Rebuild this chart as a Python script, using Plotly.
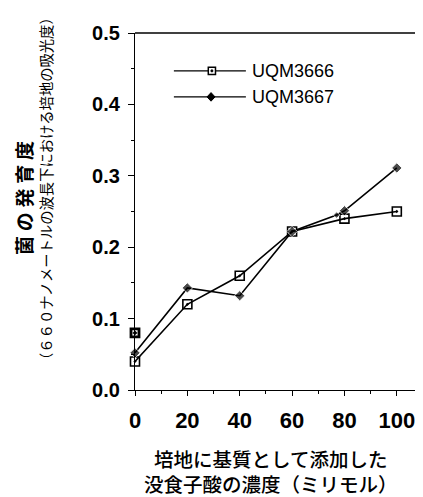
import plotly.graph_objects as go

# Data
conc_3666 = [0, 20, 40, 60, 80, 100]
od_3666 = [0.04, 0.12, 0.16, 0.222, 0.24, 0.25]
extra_conc_3666 = [0]
extra_od_3666 = [0.08]

conc_3667 = [0, 20, 40, 60, 77, 80, 100]
od_3667 = [0.052, 0.143, 0.132, 0.222, 0.245, 0.251, 0.311]
size_3667 = [8, 8, 8, 8, 5, 8, 8]

series_names = ["UQM3666", "UQM3667"]
x_ticks = [0, 20, 40, 60, 80, 100]
y_ticks = [0.0, 0.1, 0.2, 0.3, 0.4, 0.5]
y_tick_text = ["0.0", "0.1", "0.2", "0.3", "0.4", "0.5"]

y_title_main = "菌\u2005の\u2005発\u2005育\u2005度"
y_title_sub = "（６６０ナノメートルの波長下における培地の吸光度）"
x_title_1 = "培地に基質として添加した"
x_title_2 = "没食子酸の濃度（ミリモル）"

fig = go.Figure()
fig.add_trace(go.Scatter(
    x=conc_3666, y=od_3666, mode="lines+markers", name=series_names[0],
    line=dict(color="black", width=1.6),
    marker=dict(symbol="square-open-dot", size=9, color="black", line=dict(width=1.6)),
    showlegend=False, cliponaxis=False))
fig.add_trace(go.Scatter(
    x=extra_conc_3666, y=extra_od_3666, mode="markers",
    marker=dict(symbol="square-open-dot", size=8, color="black", line=dict(width=2.8)),
    showlegend=False, cliponaxis=False))
fig.add_trace(go.Scatter(
    x=conc_3667, y=od_3667, mode="lines+markers", name=series_names[1],
    line=dict(color="black", width=1.6),
    marker=dict(symbol="diamond", size=size_3667, color="black"),
    showlegend=False, cliponaxis=False))

sans = "Liberation Sans, Arial, sans-serif"
cjk = "Noto Sans CJK JP"

fig.update_layout(
    width=415, height=489,
    margin=dict(l=127, r=0, t=25, b=107),
    paper_bgcolor="white", plot_bgcolor="white",
    xaxis=dict(range=[0, 110], tickvals=x_ticks, ticktext=[str(v) for v in x_ticks],
               showgrid=False, zeroline=False, showline=True, linecolor="black", linewidth=1.3,
               ticks="outside", ticklen=5, tickwidth=1.2, tickcolor="black",
               minor=dict(dtick=10, ticks="outside", ticklen=3, tickcolor="black", showgrid=False),
               tickfont=dict(family=sans, size=22, color="black", weight="bold"),
               ticklabelstandoff=5),
    yaxis=dict(range=[0, 0.5], tickvals=y_ticks, ticktext=y_tick_text,
               showgrid=False, zeroline=False, showline=True, linecolor="black", linewidth=1.3,
               ticks="outside", ticklen=6, tickwidth=1.2, tickcolor="black",
               minor=dict(dtick=0.05, ticks="outside", ticklen=3, tickcolor="black", showgrid=False),
               tickfont=dict(family=sans, size=20, color="black", weight="bold"),
               ticklabelstandoff=4),
    showlegend=False,
)

# top frame line
fig.add_shape(type="line", xref="paper", yref="paper", x0=0, x1=1, y0=1, y1=1,
              line=dict(color="black", width=1.3))

# manual legend
leg_y = [0.894, 0.821]
for i, ly in enumerate(leg_y):
    fig.add_shape(type="line", xref="paper", yref="paper", x0=0.135, x1=0.385, y0=ly, y1=ly,
                  line=dict(color="black", width=1.4))
    fig.add_annotation(xref="paper", yref="paper", x=0.40, y=ly, text=series_names[i],
                       showarrow=False, xanchor="left", yanchor="middle",
                       font=dict(family=sans, size=18, color="black"))
# legend markers
fig.add_shape(type="rect", xref="paper", yref="paper",
              x0=0.267 - 0.0125, x1=0.267 + 0.0125, y0=leg_y[0] - 0.01, y1=leg_y[0] + 0.01,
              line=dict(color="black", width=1.5), fillcolor="white")
fig.add_shape(type="rect", xref="paper", yref="paper",
              x0=0.267 - 0.003, x1=0.267 + 0.003, y0=leg_y[0] - 0.0025, y1=leg_y[0] + 0.0025,
              line=dict(color="black", width=1), fillcolor="black")
dx, dy = 0.014, 0.012
cx, cy = 0.264, leg_y[1]
fig.add_shape(type="path", xref="paper", yref="paper",
              path=f"M {cx-dx},{cy} L {cx},{cy+dy} L {cx+dx},{cy} L {cx},{cy-dy} Z",
              line=dict(color="black", width=1), fillcolor="black")

# axis titles
fig.add_annotation(xref="paper", yref="paper", x=-0.385, y=0.538, text=y_title_main,
                   textangle=-90, showarrow=False, xanchor="center", yanchor="middle",
                   font=dict(family=cjk, size=19, color="black", weight="bold"))
fig.add_annotation(xref="paper", yref="paper", x=-0.31, y=0.565, text=y_title_sub,
                   textangle=-90, showarrow=False, xanchor="center", yanchor="middle",
                   font=dict(family=cjk, size=14.3, color="black"))
fig.add_annotation(xref="paper", yref="paper", x=0.472, y=-0.228,
                   text=x_title_1 + "<br>" + x_title_2,
                   showarrow=False, xanchor="center", yanchor="middle", align="center",
                   font=dict(family=cjk, size=19.5, color="black", weight=500))

fig.write_html("out.html")
